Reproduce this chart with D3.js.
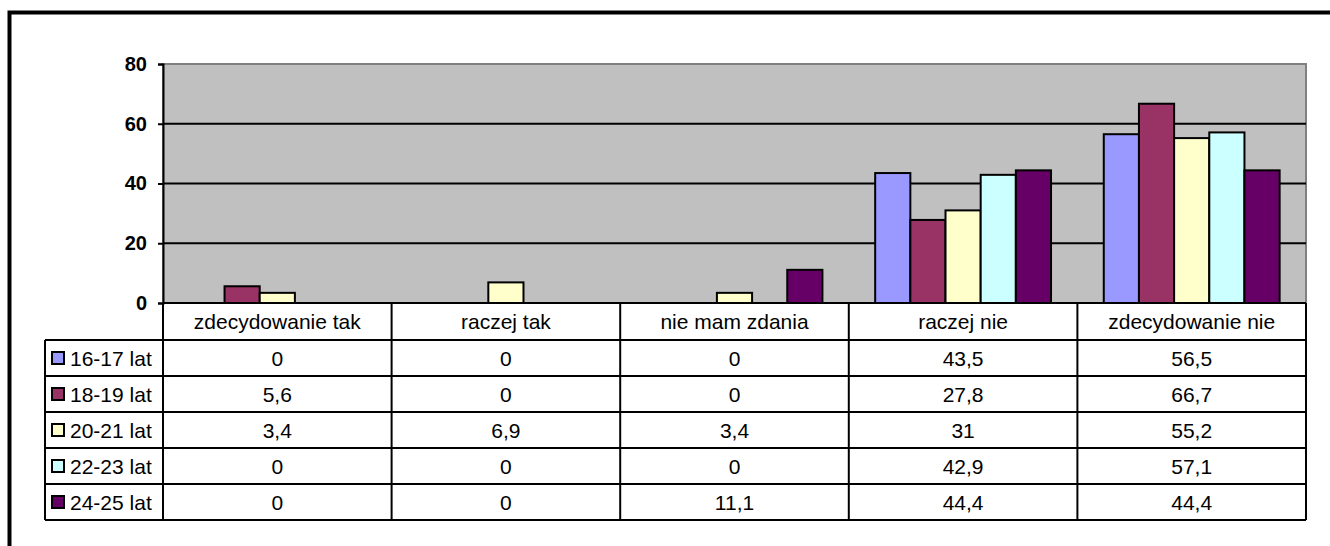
<!DOCTYPE html>
<meta charset="utf-8">
<head>
<style>
body { margin: 0; background: #fff; }
text { font-family: "Liberation Sans", Arial, sans-serif; }
</style>
</head>
<body>
<div id="chart"></div>
<script src="https://d3js.org/d3.v7.min.js"></script>
<script>
// data
var categories = ["zdecydowanie tak", "raczej tak", "nie mam zdania", "raczej nie", "zdecydowanie nie"];
var seriesNames = ["16-17 lat", "18-19 lat", "20-21 lat", "22-23 lat", "24-25 lat"];
var seriesColors = ["#9999ff", "#993366", "#ffffcc", "#ccffff", "#660066"];
var v1617 = [0, 0, 0, 43.5, 56.5];
var v1819 = [5.6, 0, 0, 27.8, 66.7];
var v2021 = [3.4, 6.9, 3.4, 31, 55.2];
var v2223 = [0, 0, 0, 42.9, 57.1];
var v2425 = [0, 0, 11.1, 44.4, 44.4];
var yTicks = [0, 20, 40, 60, 80];

var allValues = [v1617, v1819, v2021, v2223, v2425];

var W = 1330, H = 546;
var plot = {left: 163, right: 1306, top: 64, bottom: 303};
var rowH = 36, headH = 37, labelLeft = 45;

var svg = d3.select("#chart").append("svg")
  .attr("width", W).attr("height", H);

// outer frame (runs past the window on right and bottom)
svg.append("rect")
  .attr("x", 9.5).attr("y", 12.5)
  .attr("width", 1400).attr("height", 700)
  .attr("fill", "none").attr("stroke", "#000").attr("stroke-width", 4);

var x = d3.scaleBand().domain(categories).range([plot.left, plot.right]);
var xs = d3.scaleBand().domain(seriesNames).range([0, x.bandwidth()]).paddingOuter(0.75);
var y = d3.scaleLinear().domain([0, 80]).range([plot.bottom, plot.top]);

// plot background
svg.append("rect")
  .attr("x", plot.left).attr("y", plot.top)
  .attr("width", plot.right - plot.left).attr("height", plot.bottom - plot.top)
  .attr("fill", "#c0c0c0").attr("stroke", "#808080").attr("stroke-width", 2);

// gridlines
svg.append("g").selectAll("line")
  .data(yTicks.filter(function(d) { return d > 0 && d < 80; }))
  .enter().append("line")
  .attr("x1", plot.left).attr("x2", plot.right)
  .attr("y1", function(d) { return y(d); }).attr("y2", function(d) { return y(d); })
  .attr("stroke", "#000").attr("stroke-width", 2);

// bars
seriesNames.forEach(function(s, i) {
  svg.append("g").selectAll("rect")
    .data(categories.map(function(c, j) { return {c: c, v: allValues[i][j]}; }).filter(function(d) { return d.v > 0; }))
    .enter().append("rect")
    .attr("x", function(d) { return x(d.c) + xs(s); })
    .attr("y", function(d) { return y(d.v); })
    .attr("width", xs.bandwidth())
    .attr("height", function(d) { return y(0) - y(d.v); })
    .attr("fill", seriesColors[i])
    .attr("stroke", "#000").attr("stroke-width", 2);
});

// y axis
var yAxis = svg.append("g")
  .attr("transform", "translate(" + plot.left + ",0)")
  .call(d3.axisLeft(y).tickValues(yTicks).tickSize(5).tickPadding(11));
yAxis.select(".domain").attr("stroke-width", 2);
yAxis.selectAll(".tick line").attr("stroke-width", 2);
yAxis.selectAll("text")
  .style("font-family", "'Liberation Sans', Arial, sans-serif")
  .style("font-size", "20px").style("font-weight", "bold").attr("fill", "#000");

// data table
var tableTop = plot.bottom;
var tableBottom = tableTop + headH + rowH * seriesNames.length;
var t = svg.append("g");

// horizontal lines
t.append("line")
  .attr("x1", plot.left).attr("x2", plot.right)
  .attr("y1", tableTop).attr("y2", tableTop)
  .attr("stroke", "#000").attr("stroke-width", 2);
d3.range(seriesNames.length + 1).forEach(function(i) {
  var yy = tableTop + headH + i * rowH;
  t.append("line")
    .attr("x1", labelLeft).attr("x2", plot.right)
    .attr("y1", yy).attr("y2", yy)
    .attr("stroke", "#000").attr("stroke-width", 2);
});
// vertical lines
t.append("line")
  .attr("x1", labelLeft).attr("x2", labelLeft)
  .attr("y1", tableTop + headH).attr("y2", tableBottom)
  .attr("stroke", "#000").attr("stroke-width", 2);
categories.forEach(function(c) {
  t.append("line")
    .attr("x1", x(c)).attr("x2", x(c))
    .attr("y1", tableTop).attr("y2", tableBottom)
    .attr("stroke", "#000").attr("stroke-width", 2);
});
t.append("line")
  .attr("x1", plot.right).attr("x2", plot.right)
  .attr("y1", tableTop).attr("y2", tableBottom)
  .attr("stroke", "#000").attr("stroke-width", 2);

// header texts
t.selectAll(".head").data(categories).enter().append("text")
  .attr("class", "head")
  .attr("x", function(d) { return x(d) + x.bandwidth() / 2; })
  .attr("y", tableTop + headH / 2 + 7)
  .attr("text-anchor", "middle")
  .style("font-size", "21px")
  .text(function(d) { return d; });

// rows
seriesNames.forEach(function(s, i) {
  var yc = tableTop + headH + i * rowH + rowH / 2;
  t.append("rect")
    .attr("x", 52).attr("y", yc - 6)
    .attr("width", 12).attr("height", 12)
    .attr("fill", seriesColors[i]).attr("stroke", "#000").attr("stroke-width", 2);
  t.append("text")
    .attr("x", 70).attr("y", yc + 8)
    .style("font-size", "21px")
    .text(s);
  t.selectAll(".cell" + i).data(categories).enter().append("text")
    .attr("x", function(d) { return x(d) + x.bandwidth() / 2; })
    .attr("y", yc + 8)
    .attr("text-anchor", "middle")
    .style("font-size", "21px")
    .text(function(d, j) { return String(allValues[i][j]).replace(".", ","); });
});
</script>
</body>
